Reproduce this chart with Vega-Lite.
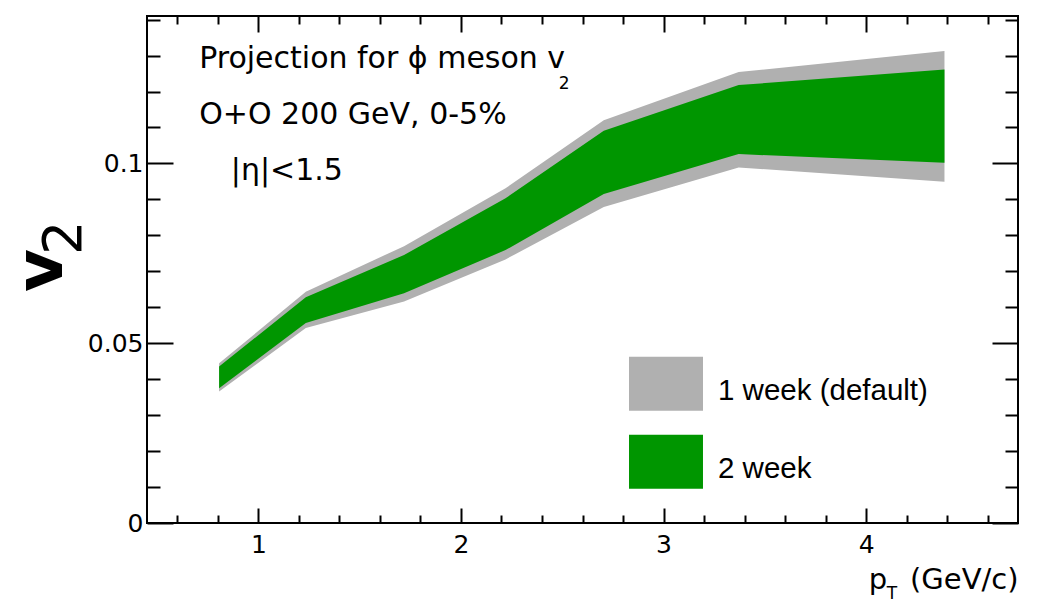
{
  "$schema": "https://vega.github.io/schema/vega-lite/v6.json",
  "width": 871,
  "height": 507,
  "autosize": {"type": "none"},
  "padding": {"left": 147, "top": 16, "right": 22, "bottom": 82},
  "background": "#ffffff",
  "config": {
    "view": {"stroke": "#000000", "strokeWidth": 2},
    "axis": {
      "grid": false,
      "domain": false,
      "labelFont": "DejaVu Sans",
      "labelFontSize": 25,
      "labelColor": "#000000",
      "tickColor": "#000000",
      "tickWidth": 2
    },
    "text": {"font": "DejaVu Sans", "color": "#000000"}
  },
  "datasets": {
    "bands": [
      {"pt": 0.806, "run": "1 week (default)", "lo": 0.0366, "hi": 0.0444},
      {"pt": 1.234, "run": "1 week (default)", "lo": 0.0542, "hi": 0.0643},
      {"pt": 1.719, "run": "1 week (default)", "lo": 0.0616, "hi": 0.0770},
      {"pt": 2.220, "run": "1 week (default)", "lo": 0.0733, "hi": 0.0931},
      {"pt": 2.705, "run": "1 week (default)", "lo": 0.0879, "hi": 0.1120},
      {"pt": 3.371, "run": "1 week (default)", "lo": 0.0989, "hi": 0.1254},
      {"pt": 4.387, "run": "1 week (default)", "lo": 0.0949, "hi": 0.1313},
      {"pt": 0.806, "run": "2 week", "lo": 0.0375, "hi": 0.0435},
      {"pt": 1.234, "run": "2 week", "lo": 0.0556, "hi": 0.0628},
      {"pt": 1.719, "run": "2 week", "lo": 0.0639, "hi": 0.0745},
      {"pt": 2.220, "run": "2 week", "lo": 0.0759, "hi": 0.0903},
      {"pt": 2.705, "run": "2 week", "lo": 0.0915, "hi": 0.1091},
      {"pt": 3.371, "run": "2 week", "lo": 0.1026, "hi": 0.1218},
      {"pt": 4.387, "run": "2 week", "lo": 0.1002, "hi": 0.1261}
    ],
    "notes": [
      {"px": 0.7075, "v": 0.1264, "label": "Projection for ϕ meson v"},
      {"px": 0.7075, "v": 0.1111, "label": "O+O 200 GeV, 0-5%"},
      {"px": 0.8638, "v": 0.09536, "label": "|η|<1.5"}
    ],
    "subs": [
      {"px": 2.483, "v": 0.1206, "label": "2"},
      {"px": 4.1016, "v": -0.0210, "label": "T"}
    ],
    "xtitle": [
      {"px": 4.0128, "v": -0.01825, "label": "p"}
    ],
    "xunit": [
      {"px": 4.7525, "v": -0.01825, "label": "(GeV/c)"}
    ],
    "ytitle": [
      {"px": 0.0316, "v": 0.06425, "label": "v"}
    ],
    "ytitleSub": [
      {"px": 0.1253, "v": 0.07453, "label": "2"}
    ]
  },
  "layer": [
    {
      "data": {"name": "bands"},
      "mark": {"type": "area", "opacity": 1, "interpolate": "linear"},
      "encoding": {
        "x": {
          "field": "pt",
          "type": "quantitative",
          "scale": {"domain": [0.45, 4.75], "nice": false, "zero": false},
          "axis": {"orient": "bottom", "values": [1, 2, 3, 4], "format": "d", "ticks": false, "labelPadding": 9, "title": null}
        },
        "y": {
          "field": "lo",
          "type": "quantitative",
          "stack": null,
          "scale": {"domain": [0, 0.141], "nice": false, "zero": false},
          "axis": {"orient": "left", "values": [0, 0.05, 0.1], "format": "~g", "ticks": false, "labelPadding": 4, "title": null}
        },
        "y2": {"field": "hi"},
        "color": {
          "field": "run",
          "type": "nominal",
          "scale": {"domain": ["1 week (default)", "2 week"], "range": ["#b0b0b0", "#009600"]},
          "legend": {
            "orient": "none",
            "legendX": 492,
            "legendY": 348,
            "title": null,
            "padding": 0,
            "symbolType": "M-1.37,-1.27L1.37,-1.27L1.37,0.73L-1.37,0.73Z",
            "symbolSize": 2916,
            "symbolStrokeWidth": 0,
            "symbolOpacity": 1,
            "labelFont": "Liberation Sans",
            "labelFontSize": 29.5,
            "labelColor": "#000000",
            "labelOffset": 25,
            "labelLimit": 400,
            "rowPadding": 23
          }
        }
      }
    },
    {
      "data": {"name": "bands"},
      "mark": {"type": "point", "opacity": 0},
      "encoding": {
        "x": {"field": "pt", "type": "quantitative", "axis": {"orient": "bottom", "values": [1, 2, 3, 4], "labels": false, "tickSize": -15, "title": null}},
        "y": {"field": "lo", "type": "quantitative", "axis": {"orient": "left", "values": [0, 0.05, 0.1], "labels": false, "tickSize": -26, "title": null}}
      }
    },
    {
      "data": {"name": "bands"},
      "mark": {"type": "point", "opacity": 0},
      "encoding": {
        "x": {"field": "pt", "type": "quantitative", "axis": {"orient": "bottom", "values": [0.6, 0.8, 1.2, 1.4, 1.6, 1.8, 2.2, 2.4, 2.6, 2.8, 3.2, 3.4, 3.6, 3.8, 4.2, 4.4, 4.6], "labels": false, "tickSize": -8, "title": null}},
        "y": {"field": "lo", "type": "quantitative", "axis": {"orient": "left", "values": [0.01, 0.02, 0.03, 0.04, 0.06, 0.07, 0.08, 0.09, 0.11, 0.12, 0.13, 0.14], "labels": false, "tickSize": -13, "title": null}}
      }
    },
    {
      "data": {"name": "bands"},
      "mark": {"type": "point", "opacity": 0},
      "encoding": {
        "x": {"field": "pt", "type": "quantitative", "axis": {"orient": "top", "values": [1, 2, 3, 4], "labels": false, "tickSize": -16, "title": null}},
        "y": {"field": "lo", "type": "quantitative", "axis": {"orient": "right", "values": [0, 0.05, 0.1], "labels": false, "tickSize": -26, "title": null}}
      }
    },
    {
      "data": {"name": "bands"},
      "mark": {"type": "point", "opacity": 0},
      "encoding": {
        "x": {"field": "pt", "type": "quantitative", "axis": {"orient": "top", "values": [0.6, 0.8, 1.2, 1.4, 1.6, 1.8, 2.2, 2.4, 2.6, 2.8, 3.2, 3.4, 3.6, 3.8, 4.2, 4.4, 4.6], "labels": false, "tickSize": -8, "title": null}},
        "y": {"field": "lo", "type": "quantitative", "axis": {"orient": "right", "values": [0.01, 0.02, 0.03, 0.04, 0.06, 0.07, 0.08, 0.09, 0.11, 0.12, 0.13, 0.14], "labels": false, "tickSize": -13, "title": null}}
      }
    },
    {
      "data": {"name": "notes"},
      "mark": {"type": "text", "align": "left", "baseline": "alphabetic", "fontSize": 30},
      "encoding": {
        "x": {"field": "px", "type": "quantitative", "axis": null},
        "y": {"field": "v", "type": "quantitative", "axis": null},
        "text": {"field": "label"}
      }
    },
    {
      "data": {"name": "subs"},
      "mark": {"type": "text", "align": "left", "baseline": "alphabetic", "fontSize": 17},
      "encoding": {
        "x": {"field": "px", "type": "quantitative", "axis": null},
        "y": {"field": "v", "type": "quantitative", "axis": null},
        "text": {"field": "label"}
      }
    },
    {
      "data": {"name": "xtitle"},
      "mark": {"type": "text", "align": "left", "baseline": "alphabetic", "fontSize": 29},
      "encoding": {
        "x": {"field": "px", "type": "quantitative", "axis": null},
        "y": {"field": "v", "type": "quantitative", "axis": null},
        "text": {"field": "label"}
      }
    },
    {
      "data": {"name": "xunit"},
      "mark": {"type": "text", "align": "right", "baseline": "alphabetic", "fontSize": 29},
      "encoding": {
        "x": {"field": "px", "type": "quantitative", "axis": null},
        "y": {"field": "v", "type": "quantitative", "axis": null},
        "text": {"field": "label"}
      }
    },
    {
      "data": {"name": "ytitle"},
      "mark": {"type": "text", "align": "left", "baseline": "alphabetic", "fontSize": 66, "fontWeight": "bold", "angle": 270},
      "encoding": {
        "x": {"field": "px", "type": "quantitative", "axis": null},
        "y": {"field": "v", "type": "quantitative", "axis": null},
        "text": {"field": "label"}
      }
    },
    {
      "data": {"name": "ytitleSub"},
      "mark": {"type": "text", "align": "left", "baseline": "alphabetic", "fontSize": 54, "angle": 270},
      "encoding": {
        "x": {"field": "px", "type": "quantitative", "axis": null},
        "y": {"field": "v", "type": "quantitative", "axis": null},
        "text": {"field": "label"}
      }
    }
  ],
  "resolve": {"axis": {"x": "independent", "y": "independent"}}
}
